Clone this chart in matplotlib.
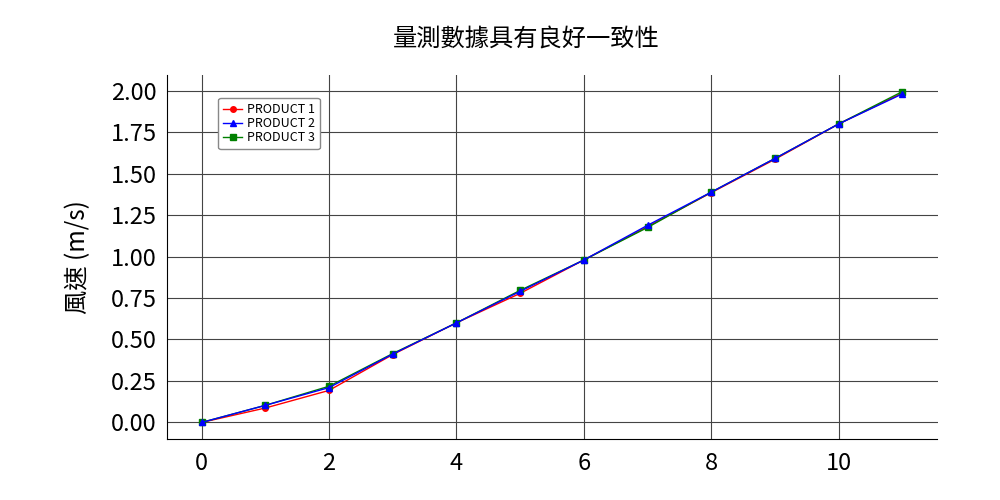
import matplotlib
matplotlib.use('Agg')
import matplotlib.pyplot as plt
import numpy as np

plt.rcParams['font.family'] = ['Noto Sans CJK TC', 'DejaVu Sans']

x = np.arange(12)
product_1 = [0.00, 0.087, 0.193, 0.409, 0.600, 0.778, 0.979, 1.180, 1.385, 1.586, 1.799, 1.985]
product_2 = [0.00, 0.103, 0.210, 0.412, 0.600, 0.790, 0.979, 1.188, 1.388, 1.591, 1.799, 1.980]
product_3 = [0.00, 0.103, 0.218, 0.415, 0.600, 0.796, 0.979, 1.175, 1.388, 1.591, 1.799, 1.994]
labels = ['PRODUCT 1', 'PRODUCT 2', 'PRODUCT 3']

fig = plt.figure(figsize=(10, 5), dpi=100)
ax = fig.add_axes([0.1665, 0.122, 0.771, 0.728])

ax.plot(x, product_1, color='red', marker='o', ms=4, lw=1, label=labels[0])
ax.plot(x, product_3, color='green', marker='s', ms=4, lw=1, label=labels[2])
ax.plot(x, product_2, color='blue', marker='^', ms=4, lw=1, label=labels[1])

fig.text(0.526, 0.921, '量測數據具有良好一致性', fontsize=17.5, ha='center', va='center')
ax.set_ylabel('風速 (m/s)', fontsize=17.5, labelpad=14)
ax.set_xticks([0, 2, 4, 6, 8, 10])
ax.set_yticks(np.arange(0, 2.01, 0.25))
ax.yaxis.set_major_formatter(matplotlib.ticker.FormatStrFormatter('%.2f'))
ax.tick_params(length=0, labelsize=17, pad=7)
ax.tick_params(axis='x', pad=9)
ax.grid(True, color='#444444', lw=0.8)
ax.set_axisbelow(True)
for s in ['top', 'right']:
    ax.spines[s].set_visible(False)

h, l = ax.get_legend_handles_labels()
order = [0, 2, 1]
ax.legend([h[i] for i in order], [l[i] for i in order], loc='upper left',
          bbox_to_anchor=(0.067, 0.937), borderaxespad=0, fontsize=9,
          framealpha=1, edgecolor='#888888', handlelength=1.5,
          handletextpad=0.4, labelspacing=0.1)

fig.savefig('out.png', dpi=100)
